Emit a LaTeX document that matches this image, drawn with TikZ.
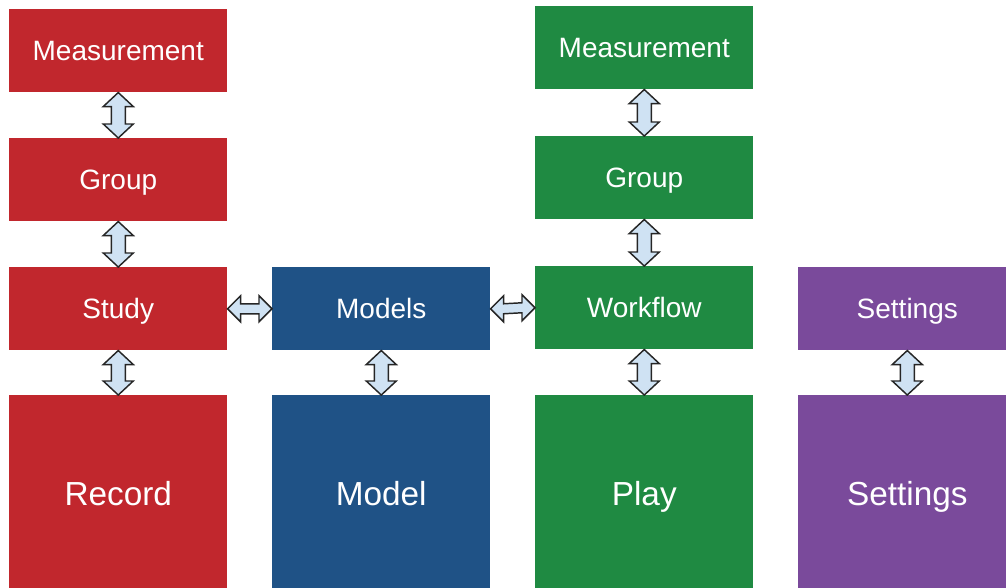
\documentclass[tikz,border=0pt]{standalone}
\usepackage{fontspec}
\setmainfont{Liberation Sans}
\usepackage{xcolor}
\usepackage{tikz}
\usetikzlibrary{calc}
\definecolor{recred}{HTML}{C1272D}
\definecolor{modblue}{HTML}{1F5286}
\definecolor{playgreen}{HTML}{1F8A42}
\definecolor{setpurple}{HTML}{7A4A9B}
\definecolor{linkbg}{HTML}{CFE2F3}
\tikzset{
  box/.style={anchor=north west, inner sep=0pt, minimum width=163.5pt, minimum height=62.25pt,
    text=white, text height=15pt, text depth=0pt, font=\fontsize{21}{25}\selectfont},
  bigbox/.style={box, minimum height=148pt, text height=18pt, font=\fontsize{25}{30}\selectfont},
  link/.style={draw=black!85, fill=linkbg, line width=1.1pt, line join=miter},
}
% double block arrows between boxes
\newcommand{\vlink}[2]{%
  \draw[link] (#1.south) -- ($(#1.south)+(15,14)$) -- ($(#1.south)+(7,14)$)
    -- ($(#2.north)+(7,-14)$) -- ($(#2.north)+(15,-14)$) -- (#2.north)
    -- ($(#2.north)+(-15,-14)$) -- ($(#2.north)+(-7,-14)$)
    -- ($(#1.south)+(-7,14)$) -- ($(#1.south)+(-15,14)$) -- cycle;}
\newcommand{\hlink}[2]{%
  \draw[link] (#1.east) -- ($(#1.east)+(13,-13)$) -- ($(#1.east)+(13,-5)$)
    -- ($(#2.west)+(-13,-5)$) -- ($(#2.west)+(-13,-13)$) -- (#2.west)
    -- ($(#2.west)+(-13,13)$) -- ($(#2.west)+(-13,5)$)
    -- ($(#1.east)+(13,5)$) -- ($(#1.east)+(13,13)$) -- cycle;}

\begin{document}
\begin{tikzpicture}[x=0.75pt,y=-0.75pt]
  \useasboundingbox (0,0) rectangle (1006,587);
  \clip (0,0) rectangle (1006,587);

  \node[box,fill=recred] (rmeas) at (9,9) {Measurement};
  \node[box,fill=recred] (rgroup) at (9,138) {Group};
  \node[box,fill=recred] (study) at (9,267) {Study};
  \node[bigbox,fill=recred] (record) at (9,395) {Record};

  \node[box,fill=modblue] (models) at (272,267) {Models};
  \node[bigbox,fill=modblue] (model) at (272,395) {Model};

  \node[box,fill=playgreen] (gmeas) at (535,6) {Measurement};
  \node[box,fill=playgreen] (ggroup) at (535,136) {Group};
  \node[box,fill=playgreen] (workflow) at (535,266) {Workflow};
  \node[bigbox,fill=playgreen] (play) at (535,395) {Play};

  \node[box,fill=setpurple] (setsmall) at (798,267) {Settings};
  \node[bigbox,fill=setpurple] (setbig) at (798,395) {Settings};

  \vlink{rmeas}{rgroup}
  \vlink{rgroup}{study}
  \vlink{study}{record}
  \vlink{models}{model}
  \vlink{gmeas}{ggroup}
  \vlink{ggroup}{workflow}
  \vlink{workflow}{play}
  \vlink{setsmall}{setbig}
  \hlink{study}{models}
  \hlink{models}{workflow}
\end{tikzpicture}
\end{document}
